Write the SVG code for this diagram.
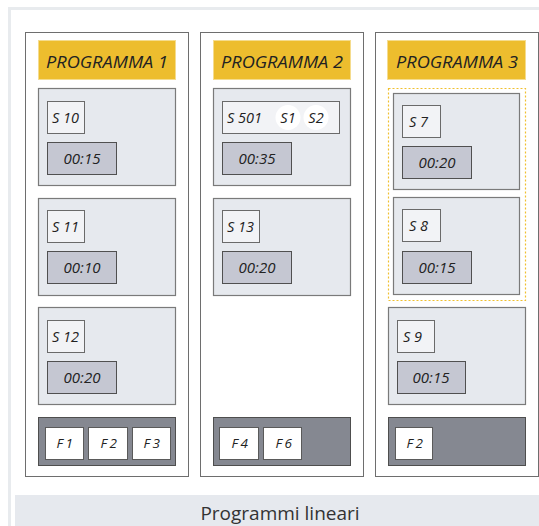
<svg xmlns="http://www.w3.org/2000/svg" width="539" height="526" viewBox="0 0 539 526">
<style>
.frame{fill:#fff;stroke:#e8ebee;stroke-width:3}
.col{fill:#fff;stroke:#6e6e6e;stroke-width:1}
.hdr{fill:#edbd2e;stroke:#f5dc8e;stroke-width:1}
.card{fill:#e6e9ee;stroke:#7a7a7a;stroke-width:1.2}
.sbox{fill:#f2f3f6;stroke:#6a6a6a;stroke-width:1}
.tbox{fill:#c5c7d2;stroke:#505050;stroke-width:1}
.foot{fill:#858891;stroke:#4e4e4e;stroke-width:1}
.fbox{fill:#fff;stroke:#5a5a5a;stroke-width:1}
.dot{fill:none;stroke:#f0c030;stroke-width:1.2;stroke-dasharray:2 2}
.circ{fill:#fff}
text{font-family:"Open Sans","Noto Sans",sans-serif;font-style:italic;fill:#222}
.h{font-size:15.5px;text-anchor:middle}
.s{font-size:14.5px}
.t{font-size:15px;text-anchor:middle}
.f{font-size:13.5px;text-anchor:middle;letter-spacing:2.5px}
.cap{font-style:normal;font-size:19px;text-anchor:middle;fill:#333}
</style>
<rect class="frame" x="9.5" y="8.5" width="540" height="530"/>
<rect x="15" y="495" width="524" height="31" fill="#e6e9ee"/>
<text class="cap" x="280" y="520">Programmi lineari</text>

<g id="col1">
<rect class="col" x="25.5" y="32.5" width="163" height="444"/>
<rect class="hdr" x="38.5" y="40.5" width="137" height="39"/>
<text class="h" x="107" y="67.5" textLength="122" lengthAdjust="spacingAndGlyphs">PROGRAMMA 1</text>
</g>
<g id="s10">
<rect class="card" x="38.5" y="88.5" width="137" height="97"/>
<rect class="sbox" x="47.5" y="101.5" width="37" height="32"/>
<text class="s" x="52" y="122.5">S 10</text>
<rect class="tbox" x="47.5" y="142.5" width="69" height="32"/>
<text class="t" x="82" y="164">00:15</text>
</g>
<g id="s11">
<rect class="card" x="38.5" y="198.5" width="137" height="97"/>
<rect class="sbox" x="47.5" y="210.5" width="37" height="32"/>
<text class="s" x="52" y="231.5">S 11</text>
<rect class="tbox" x="47.5" y="251.5" width="69" height="32"/>
<text class="t" x="82" y="273">00:10</text>
</g>
<g id="s12">
<rect class="card" x="38.5" y="307.5" width="137" height="97"/>
<rect class="sbox" x="47.5" y="320.5" width="37" height="32"/>
<text class="s" x="52" y="341.5">S 12</text>
<rect class="tbox" x="47.5" y="361.5" width="69" height="32"/>
<text class="t" x="82" y="383">00:20</text>
</g>
<g id="foot1">
<rect class="foot" x="38.5" y="417.5" width="137" height="48"/>
<rect class="fbox" x="45.5" y="427.5" width="38" height="32"/>
<text class="f" x="66" y="448">F1</text>
<rect class="fbox" x="88.5" y="427.5" width="39" height="32"/>
<text class="f" x="110" y="448">F2</text>
<rect class="fbox" x="132.5" y="427.5" width="38" height="32"/>
<text class="f" x="153" y="448">F3</text>
</g>

<g id="col2">
<rect class="col" x="200.5" y="32.5" width="163" height="444"/>
<rect class="hdr" x="213.5" y="40.5" width="137" height="39"/>
<text class="h" x="282" y="67.5" textLength="122" lengthAdjust="spacingAndGlyphs">PROGRAMMA 2</text>
</g>
<g id="s501">
<rect class="card" x="213.5" y="88.5" width="137" height="97"/>
<rect class="sbox" x="222.5" y="101.5" width="117" height="32"/>
<text class="s" x="227" y="122.5">S 501</text>
<circle class="circ" cx="288" cy="117.5" r="12.5"/>
<text class="s" x="288" y="122.5" text-anchor="middle">S1</text>
<circle class="circ" cx="316" cy="117.5" r="12.5"/>
<text class="s" x="316" y="122.5" text-anchor="middle">S2</text>
<rect class="tbox" x="222.5" y="142.5" width="69" height="32"/>
<text class="t" x="257" y="164">00:35</text>
</g>
<g id="s13">
<rect class="card" x="213.5" y="198.5" width="137" height="97"/>
<rect class="sbox" x="222.5" y="210.5" width="37" height="32"/>
<text class="s" x="227" y="231.5">S 13</text>
<rect class="tbox" x="222.5" y="251.5" width="69" height="32"/>
<text class="t" x="257" y="273">00:20</text>
</g>
<g id="foot2">
<rect class="foot" x="213.5" y="417.5" width="137" height="48"/>
<rect class="fbox" x="219.5" y="427.5" width="39" height="32"/>
<text class="f" x="241" y="448">F4</text>
<rect class="fbox" x="263.5" y="427.5" width="38" height="32"/>
<text class="f" x="285" y="448">F6</text>
</g>

<g id="col3">
<rect class="col" x="375.5" y="32.5" width="163" height="444"/>
<rect class="hdr" x="387.5" y="40.5" width="138" height="39"/>
<text class="h" x="457" y="67.5" textLength="122" lengthAdjust="spacingAndGlyphs">PROGRAMMA 3</text>
<rect class="dot" x="388.5" y="88.5" width="137" height="212"/>
</g>
<g id="s7">
<rect class="card" x="393.5" y="93.5" width="126" height="96"/>
<rect class="sbox" x="402.5" y="105.5" width="38" height="32"/>
<text class="s" x="409" y="126.5">S 7</text>
<rect class="tbox" x="402.5" y="146.5" width="69" height="32"/>
<text class="t" x="437" y="168">00:20</text>
</g>
<g id="s8">
<rect class="card" x="393.5" y="197.5" width="126" height="97"/>
<rect class="sbox" x="402.5" y="209.5" width="38" height="32"/>
<text class="s" x="409" y="230.5">S 8</text>
<rect class="tbox" x="402.5" y="251.5" width="69" height="32"/>
<text class="t" x="437" y="273">00:15</text>
</g>
<g id="s9">
<rect class="card" x="388.5" y="307.5" width="137" height="97"/>
<rect class="sbox" x="397.5" y="320.5" width="37" height="32"/>
<text class="s" x="403" y="341.5">S 9</text>
<rect class="tbox" x="397.5" y="361.5" width="68" height="32"/>
<text class="t" x="431" y="383">00:15</text>
</g>
<g id="foot3">
<rect class="foot" x="388.5" y="417.5" width="137" height="48"/>
<rect class="fbox" x="395.5" y="427.5" width="37" height="32"/>
<text class="f" x="416" y="448">F2</text>
</g>
<g id="connectors"/>
</svg>
